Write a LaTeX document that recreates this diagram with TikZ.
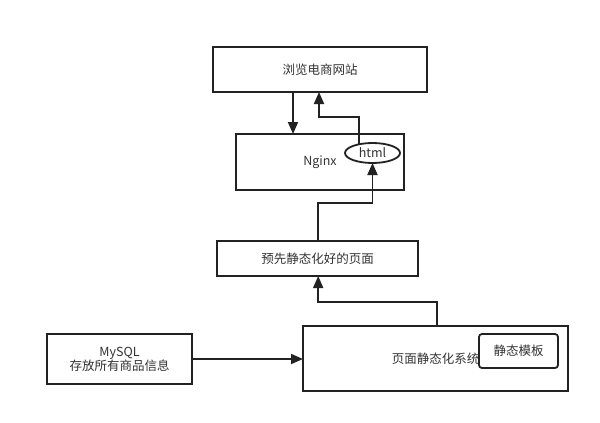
\documentclass[tikz,border=0pt]{standalone}
\usepackage{fontspec}
\setmainfont{Noto Sans CJK SC}
\usetikzlibrary{arrows.meta,shapes.geometric}
\definecolor{ln}{HTML}{222222}
\definecolor{tx}{HTML}{333333}
\tikzset{
  box/.style={draw=ln, line width=1.8pt, fill=white, inner sep=0pt, outer sep=0pt,
    text=tx, font=\fontsize{12.5}{16}\selectfont, align=center},
  arr/.style={draw=ln, line width=1.8pt, -{Triangle[length=12pt,width=10pt]}}
}
\begin{document}
\begin{tikzpicture}[x=1pt,y=-1pt]
\fill[white] (0,0) rectangle (600,423);
\useasboundingbox (0,0) rectangle (600,423);
% nodes
\node[box, minimum width=214pt, minimum height=45pt] (top) at (320,69.5) {浏览电商网站};
\node[box, minimum width=168pt, minimum height=56pt] (nginx) at (320,162) {Nginx};
\node[box, ellipse, minimum width=55pt, minimum height=20pt] (html) at (372.5,153) {html};
\node[box, minimum width=201pt, minimum height=35pt] (pre) at (317.5,258.5) {预先静态化好的页面};
\node[box, minimum width=265pt, minimum height=65pt] (sys) at (435.5,358.5) {页面静态化系统};
\node[box, rounded corners=3pt, minimum width=79pt, minimum height=34pt] (tpl) at (518.5,351) {静态模板};
\node[box, minimum width=145pt, minimum height=50pt] (mysql) at (119.5,359) {MySQL\\[-2pt]存放所有商品信息};
% junction coordinates
\coordinate (d1) at (293,0);
\coordinate (j1) at (319,117);
\coordinate (j2) at (318.2,203);
\coordinate (j3) at (437,302);
\coordinate (j4) at (318.2,302);
% connectors
\draw[arr] (top.south -| d1) -- (nginx.north -| d1);
\draw[arr] (html.147) |- (j1) -- (j1 |- top.south);
\draw[arr] (pre.north -| j2) -- (j2) -- (j2 -| html.south) -- (html.south);
\draw[arr] (sys.north -| j3) -- (j3) -- (j4) -- (j4 |- pre.south);
\draw[arr] (mysql.east) -- (mysql.east -| sys.west);
\end{tikzpicture}
\end{document}
